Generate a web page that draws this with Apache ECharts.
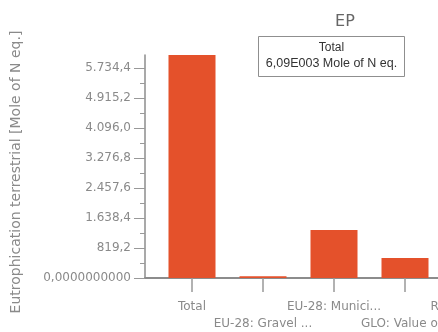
<!DOCTYPE html>
<html>
<head>
<meta charset="utf-8">
<script src="https://cdn.jsdelivr.net/npm/echarts@6/dist/echarts.min.js"></script>
<style>html,body{margin:0;padding:0;background:#fff;overflow:hidden;width:438px;height:332px}#c{width:525px;height:332px}</style>
</head>
<body>
<div id="c"></div>
<script>
const categories = ['Total', 'EU-28: Gravel ...', 'EU-28: Munici...', 'GLO: Value o...', 'RER: Electrici...'];
const values = [6090, 50, 1311, 546, null];
const yTicks = [0, 819.2, 1638.4, 2457.6, 3276.8, 4096.0, 4915.2, 5734.4];
const yMinorTicks = [409.6, 1228.8, 2048.0, 2867.2, 3686.4, 4505.6, 5324.8];
const yMax = 6090;
const unit = 'Mole of N eq.';
const yName = 'Eutrophication terrestrial [Mole of N eq.]';
const title = 'EP';

function fmtNum(v) {
  if (v === 0) return '0,0000000000';
  const parts = v.toFixed(1).split('.');
  const intPart = parts[0].replace(/\B(?=(\d{3})+(?!\d))/g, '.');
  return intPart + ',' + parts[1];
}
function fmtSci(v) {
  const e = Math.floor(Math.log10(v));
  const m = (v / Math.pow(10, e)).toFixed(2).replace('.', ',');
  return m + 'E' + String(e).padStart(3, '0');
}

const font = 'DejaVu Sans';
const axisGrey = '#8c8c8c';

const chart = echarts.init(document.getElementById('c'), null, {renderer: 'canvas', width: 525, height: 332});
chart.setOption({
  animation: false,
  title: {
    text: title, left: 340, top: 9, textAlign: 'center',
    textStyle: {fontFamily: font, fontSize: 16, fontWeight: 'normal', color: '#666'}
  },
  grid: [
    {left: 156.5, width: 355, top: 55, bottom: 54, containLabel: false},
    {left: 145, width: 366.5, top: 55, bottom: 54, containLabel: false}
  ],
  xAxis: [{
    type: 'category', data: categories, gridIndex: 0,
    axisLine: {show: true, lineStyle: {color: axisGrey, width: 2}},
    axisTick: {show: true, alignWithLabel: true, length: 14, lineStyle: {color: '#999', width: 1.5}},
    axisLabel: {
      interval: 0, margin: 20, lineHeight: 17,
      fontFamily: font, fontSize: 12, color: '#8a8a8a',
      formatter: (v, i) => (i % 2 === 1 ? '\n' : '') + v
    }
  }, {
    type: 'value', gridIndex: 1, min: 0, max: 1,
    splitLine: {show: false},
    axisLine: {show: true, lineStyle: {color: axisGrey, width: 2}},
    axisTick: {show: false}, axisLabel: {show: false}
  }],
  yAxis: [{
    type: 'value', gridIndex: 0, min: 0, max: yMax, offset: 11.5,
    name: yName, nameLocation: 'middle', nameGap: 122,
    nameTextStyle: {fontFamily: font, fontSize: 14, color: '#8a8a8a', padding: [0, 11, 0, 0]},
    splitLine: {show: false},
    axisLine: {show: true, lineStyle: {color: axisGrey, width: 1.5}},
    axisTick: {show: true, customValues: yTicks, length: 11, lineStyle: {color: '#999'}},
    axisLabel: {customValues: yTicks, margin: 14, fontFamily: font, fontSize: 12, color: '#8a8a8a', formatter: v => fmtNum(v)}
  }, {
    type: 'value', gridIndex: 0, min: 0, max: yMax, position: 'left', offset: 11.5,
    splitLine: {show: false},
    axisLine: {show: false},
    axisTick: {show: true, customValues: yMinorTicks, length: 5, lineStyle: {color: '#999'}},
    axisLabel: {show: false}
  }, {
    type: 'value', gridIndex: 1, show: false
  }],
  series: [{
    type: 'bar', data: values, barWidth: 47, xAxisIndex: 0, yAxisIndex: 0,
    itemStyle: {color: '#e4512b'}
  }],
  graphic: [{
    type: 'group', left: 258, top: 36,
    children: [
      {type: 'rect', shape: {x: 0, y: 0, width: 146, height: 40}, style: {fill: '#fff', stroke: '#8f8f8f', lineWidth: 1}},
      {type: 'text', x: 73, y: 5, style: {text: categories[0], fontFamily: 'Liberation Sans', fontSize: 12, fill: '#333', align: 'center'}},
      {type: 'text', x: 73, y: 21, style: {text: fmtSci(values[0]) + ' ' + unit, fontFamily: 'Liberation Sans', fontSize: 12.5, fill: '#333', align: 'center'}}
    ]
  }]
});
</script>
</body>
</html>
